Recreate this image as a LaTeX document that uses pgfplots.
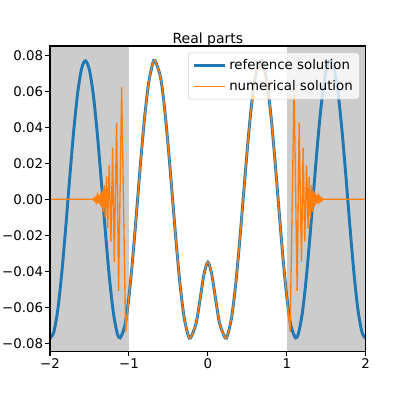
\documentclass[border=0pt]{standalone}
\usepackage{fontspec}
\setmainfont{DejaVu Sans}
\usepackage{pgfplots}
\pgfplotsset{compat=1.18}
\definecolor{refblue}{HTML}{1F77B4}
\definecolor{numorange}{HTML}{FF7F0E}
\definecolor{spangray}{HTML}{CCCCCC}

\begin{document}
\begin{tikzpicture}
\begin{axis}[
    scale only axis,
    width=236.8pt, height=228.8pt,
    xmin=-2, xmax=2,
    ymin=-0.0843, ymax=0.0852,
    axis on top,
    axis line style={black, line width=0.8pt},
    scaled y ticks=false,
    xtick={-2,-1,0,1,2},
    xticklabels={\mbox{−2},\mbox{−1},\mbox{0},\mbox{1},\mbox{2}},
    ytick={-0.08,-0.06,-0.04,-0.02,0,0.02,0.04,0.06,0.08},
    yticklabels={\mbox{−0.08},\mbox{−0.06},\mbox{−0.04},\mbox{−0.02},\mbox{0.00},\mbox{0.02},\mbox{0.04},\mbox{0.06},\mbox{0.08}},
    xtick pos=bottom, ytick pos=left,
    tick align=outside,
    major tick length=3.5pt,
    tick style={black, line width=0.8pt},
    tick label style={font=\fontsize{10}{12}\selectfont},
    yticklabel style={inner xsep=1.5pt},
    xticklabel style={inner ysep=2pt},
    title={Real parts},
    every axis title/.style={font=\fontsize{10.5}{12}\selectfont, at={(0.5,1)}, anchor=base, yshift=1.8pt, inner sep=0pt},
    legend style={at={(1,1)}, anchor=north east, xshift=-4.5pt, yshift=-5pt,
        draw=spangray, fill=white, fill opacity=0.8, text opacity=1,
        rounded corners=2pt, font=\fontsize{10}{12}\selectfont,
        row sep=2.5pt, inner xsep=3pt, inner ysep=3pt},
    legend cell align=left,
    legend image code/.code={\draw[#1] (0cm,0cm) -- (0.82cm,0cm);},
    legend entries={reference solution, numerical solution},
]
% shaded outer regions
\addplot[draw=none, fill=spangray, forget plot] coordinates {(-2,-0.09) (-1,-0.09) (-1,0.09) (-2,0.09)} -- cycle;
\addplot[draw=none, fill=spangray, forget plot] coordinates {(1,-0.09) (2,-0.09) (2,0.09) (1,0.09)} -- cycle;

% reference solution
\addplot[refblue, line width=2.2pt, smooth] coordinates {
(-2.00,-0.0769) (-1.994,-0.0770) (-1.95,-0.0735) (-1.90,-0.0609) (-1.85,-0.0406) (-1.80,-0.0152)
(-1.75,0.0121) (-1.70,0.0379) (-1.65,0.0589) (-1.60,0.0725) (-1.5519,0.0770) (-1.50,0.0718)
(-1.45,0.0576) (-1.40,0.0361) (-1.35,0.0101) (-1.30,-0.0172) (-1.25,-0.0423) (-1.20,-0.0621)
(-1.15,-0.0741) (-1.1111,-0.0770) (-1.05,-0.0698) (-1.00,-0.0542) (-0.95,-0.0317) (-0.90,-0.0053)
(-0.85,0.0218) (-0.80,0.0461) (-0.75,0.0647) (-0.70,0.0752) (-0.6692,0.0770) (-0.60,0.0679)
(-0.55,0.0512) (-0.50,0.0281) (-0.45,0.0017) (-0.40,-0.0248) (-0.35,-0.0483) (-0.30,-0.0658)
(-0.25,-0.0754) (-0.2198,-0.0770) (-0.15,-0.0691) (-0.10,-0.0560) (-0.05,-0.0419) (0.00,-0.0350)
(0.05,-0.0419) (0.10,-0.0560) (0.15,-0.0691) (0.2198,-0.0770) (0.25,-0.0754) (0.30,-0.0658)
(0.35,-0.0483) (0.40,-0.0248) (0.45,0.0017) (0.50,0.0281) (0.55,0.0512) (0.60,0.0679)
(0.6692,0.0770) (0.70,0.0752) (0.75,0.0647) (0.80,0.0461) (0.85,0.0218) (0.90,-0.0053)
(0.95,-0.0317) (1.00,-0.0542) (1.05,-0.0698) (1.1111,-0.0770) (1.15,-0.0741) (1.20,-0.0621)
(1.25,-0.0423) (1.30,-0.0172) (1.35,0.0101) (1.40,0.0361) (1.45,0.0576) (1.50,0.0718)
(1.5519,0.0770) (1.60,0.0725) (1.65,0.0589) (1.70,0.0379) (1.75,0.0121) (1.80,-0.0152)
(1.85,-0.0406) (1.90,-0.0609) (1.95,-0.0735) (1.994,-0.0770) (2.00,-0.0769)
};

% numerical solution, inner part (matches reference)
\addplot[numorange, line width=1pt, smooth] coordinates {
(-1.00,-0.0542) (-0.95,-0.0317) (-0.90,-0.0053)
(-0.85,0.0218) (-0.80,0.0461) (-0.75,0.0647) (-0.70,0.0752) (-0.6692,0.0770) (-0.60,0.0679)
(-0.55,0.0512) (-0.50,0.0281) (-0.45,0.0017) (-0.40,-0.0248) (-0.35,-0.0483) (-0.30,-0.0658)
(-0.25,-0.0754) (-0.2198,-0.0770) (-0.15,-0.0691) (-0.10,-0.0560) (-0.05,-0.0419) (0.00,-0.0350)
(0.05,-0.0419) (0.10,-0.0560) (0.15,-0.0691) (0.2198,-0.0770) (0.25,-0.0754) (0.30,-0.0658)
(0.35,-0.0483) (0.40,-0.0248) (0.45,0.0017) (0.50,0.0281) (0.55,0.0512) (0.60,0.0679)
(0.6692,0.0770) (0.70,0.0752) (0.75,0.0647) (0.80,0.0461) (0.85,0.0218) (0.90,-0.0053)
(0.95,-0.0317) (1.00,-0.0542)
};

% numerical solution, outer parts (spurious oscillations)
\addplot[numorange, line width=1pt, forget plot] coordinates {
(-2,0) (-1.47,0) (-1.463,0.0002) (-1.455,-0.0003) (-1.447,0.0004) (-1.439,-0.0005)
(-1.431,0.0006) (-1.423,-0.0008) (-1.415,0.0010) (-1.407,-0.0013) (-1.398,0.0016)
(-1.389,-0.0020) (-1.380,0.0024) (-1.370,-0.0029) (-1.360,0.0035) (-1.349,-0.0042)
(-1.338,0.0050) (-1.326,-0.0070) (-1.313,0.0079) (-1.300,-0.0104) (-1.283,0.0126)
(-1.270,-0.0161) (-1.250,0.0191) (-1.228,-0.0235) (-1.207,0.0287) (-1.186,-0.0347)
(-1.156,0.0426) (-1.131,-0.0508) (-1.0925,0.0622) (-1.042,-0.0736) (-1.00,-0.0542)
};
\addplot[numorange, line width=1pt, forget plot] coordinates {
(1.00,-0.0542) (1.042,-0.0736) (1.0925,0.0622) (1.131,-0.0508) (1.156,0.0426)
(1.186,-0.0347) (1.207,0.0287) (1.228,-0.0235) (1.250,0.0191) (1.270,-0.0161)
(1.283,0.0126) (1.300,-0.0104) (1.313,0.0079) (1.326,-0.0070) (1.338,0.0050)
(1.349,-0.0042) (1.360,0.0035) (1.370,-0.0029) (1.380,0.0024) (1.389,-0.0020)
(1.398,0.0016) (1.407,-0.0013) (1.415,0.0010) (1.423,-0.0008) (1.431,0.0006)
(1.439,-0.0005) (1.447,0.0004) (1.455,-0.0003) (1.463,0.0002) (1.47,0) (2,0)
};
\end{axis}
\path ([shift={(-37.5pt,-33pt)}]current axis.south west) rectangle ([shift={(30.2pt,34.5pt)}]current axis.north east);
\end{tikzpicture}
\end{document}
